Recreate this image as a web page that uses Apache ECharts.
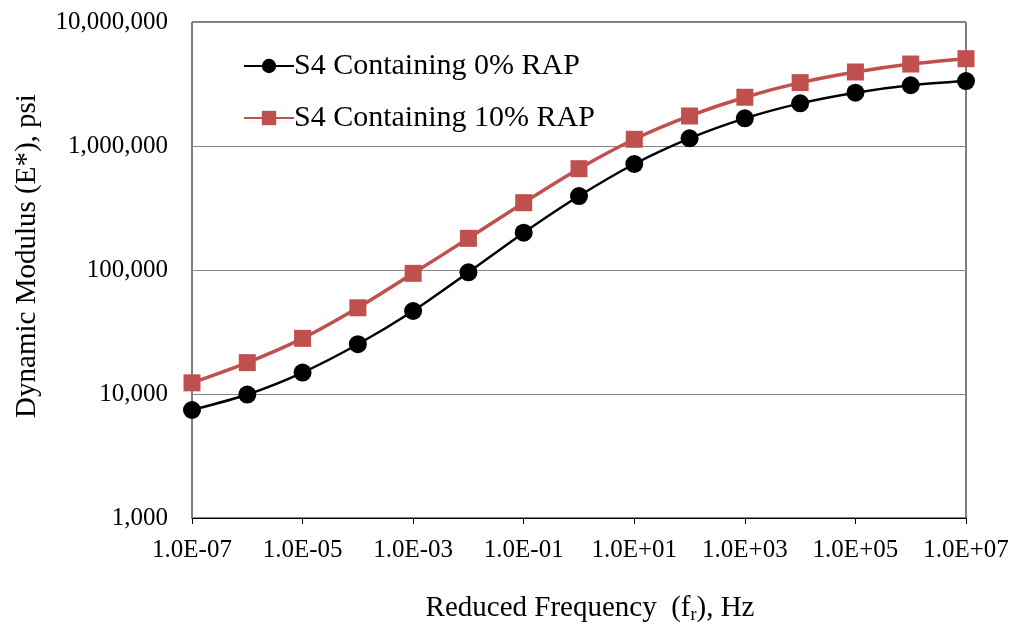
<!DOCTYPE html>
<html>
<head>
<meta charset="utf-8">
<script src="https://cdn.jsdelivr.net/npm/echarts@6/dist/echarts.min.js"></script>
<style>
html,body{margin:0;padding:0;background:#fff;}
#chart{width:1016px;height:633px;}
</style>
</head>
<body>
<div id="chart"></div>
<script>
// Reduced frequency (Hz)
const frequencies = [1e-7, 1e-6, 1e-5, 1e-4, 1e-3, 1e-2, 1e-1, 1e0, 1e1, 1e2, 1e3, 1e4, 1e5, 1e6, 1e7];
// Dynamic modulus |E*| (psi)
const rap0 = [7430, 9900, 14900, 25200, 46700, 95700, 200000, 395000, 716000, 1153000, 1671000, 2207000, 2692000, 3090000, 3340000];
const rap10 = [12300, 17900, 28100, 49600, 94000, 180000, 349000, 656000, 1133000, 1746000, 2473000, 3244000, 3953000, 4583000, 5058000];
const seriesNames = ['S4 Containing 0% RAP', 'S4 Containing 10% RAP'];
const yAxisTitle = 'Dynamic Modulus (E*), psi';

const FONT = '"Liberation Serif", "Times New Roman", serif';

function fmtExp(v) {
  const e = Math.round(Math.log10(v));
  const sign = e < 0 ? '-' : '+';
  const a = Math.abs(e);
  return '1.0E' + sign + (a < 10 ? '0' : '') + a;
}

const chart = echarts.init(document.getElementById('chart'), null, {renderer: 'canvas'});
chart.setOption({
  backgroundColor: '#ffffff',
  animation: false,
  grid: {
    left: 192, right: 50, top: 22, bottom: 115,
    outerBoundsMode: 'none', containLabel: false,
    show: true, borderColor: '#000', borderWidth: 1
  },
  legend: {
    left: 238, top: 46,
    orient: 'vertical',
    itemWidth: 50, itemHeight: 18, itemGap: 22,
    textStyle: {fontFamily: FONT, fontSize: 30, color: '#000', padding: [0, 0, 0, -5]},
    data: seriesNames
  },
  xAxis: {
    type: 'log', logBase: 10, min: 1e-7, max: 1e7, interval: 2,
    name: 'Reduced Frequency  (f{sub|r}), Hz',
    nameLocation: 'middle', nameGap: 74,
    nameTextStyle: {
      fontFamily: FONT, fontSize: 29, color: '#000', padding: [0, 0, 0, 22],
      rich: {sub: {fontFamily: FONT, fontSize: 18, color: '#000', verticalAlign: 'bottom', padding: [14, 0, 0, 0]}}
    },
    axisLine: {show: true, lineStyle: {color: '#000', width: 1}},
    axisTick: {show: true, length: 6, inside: false, lineStyle: {color: '#000'}},
    axisLabel: {fontFamily: FONT, fontSize: 25, color: '#000', margin: 20, formatter: fmtExp},
    splitLine: {show: false},
    minorTick: {show: false}
  },
  yAxis: {
    type: 'log', logBase: 10, min: 1000, max: 1e7, interval: 1,
    name: yAxisTitle,
    nameLocation: 'middle', nameGap: 150,
    nameTextStyle: {fontFamily: FONT, fontSize: 29, color: '#000', padding: [0, 0, 0, 28]},
    axisLine: {show: true, lineStyle: {color: '#7f7f7f', width: 1}},
    axisTick: {show: false},
    axisLabel: {fontFamily: FONT, fontSize: 25, color: '#000', margin: 24,
      formatter: v => Math.round(v).toLocaleString('en-US')},
    splitLine: {show: true, lineStyle: {color: '#868686', width: 1}}
  },
  series: [
    {
      name: seriesNames[0], type: 'line', smooth: 0.3,
      data: frequencies.map((f, i) => [f, rap0[i]]),
      symbol: 'circle', symbolSize: 18,
      lineStyle: {color: '#000', width: 2.5},
      itemStyle: {color: '#000'},
      z: 3
    },
    {
      name: seriesNames[1], type: 'line', smooth: 0.3,
      data: frequencies.map((f, i) => [f, rap10[i]]),
      symbol: 'rect', symbolSize: 17,
      lineStyle: {color: '#C0504D', width: 3.5},
      itemStyle: {color: '#C0504D'},
      z: 2
    }
  ]
});
</script>
</body>
</html>
